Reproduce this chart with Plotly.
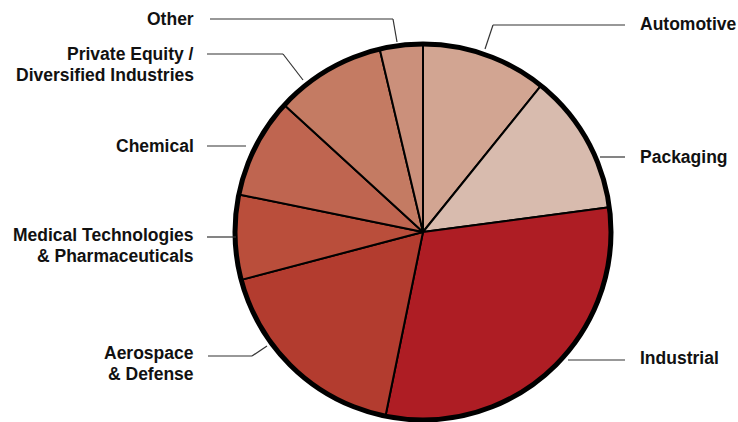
import plotly.graph_objects as go

categories = ["Automotive", "Packaging", "Industrial", "Aerospace & Defense",
              "Medical Technologies & Pharmaceuticals", "Chemical",
              "Private Equity / Diversified Industries", "Other"]
shares = [10.8, 12.1, 30.3, 17.7, 7.3, 8.6, 9.5, 3.7]
colors = ["#D2A592", "#D8BBAE", "#AE1D24", "#B33C2F", "#BA4E3B", "#BF6550", "#C47B63", "#CB907B"]
label_lines = [["Automotive"], ["Packaging"], ["Industrial"], ["Aerospace", "& Defense"],
               ["Medical Technologies", "& Pharmaceuticals"], ["Chemical"],
               ["Private Equity /", "Diversified Industries"], ["Other"]]

W, H = 738, 422
CX, CY, R = 423, 232, 188

def px(x):
    return x / W

def py(y):
    return 1 - y / H

fig = go.Figure()
fig.add_trace(go.Pie(
    labels=categories, values=shares, sort=False, direction="clockwise", rotation=0,
    marker=dict(colors=colors, line=dict(color="black", width=2)),
    textinfo="none", hoverinfo="label+percent", showlegend=False,
    domain=dict(x=[px(CX - R), px(CX + R)], y=[py(CY + R), py(CY - R)]),
))

shapes = [dict(type="circle", xref="paper", yref="paper",
               x0=px(CX - R), x1=px(CX + R), y0=py(CY + R), y1=py(CY - R),
               line=dict(color="black", width=5))]

# leader lines (pixel coords): list of polyline points
leaders = [
    [(625, 25), (493, 25), (485, 49)],          # Automotive
    [(625, 157), (600, 157)],                   # Packaging
    [(625, 360), (568, 360)],                   # Industrial
    [(208, 356), (252, 356), (267, 346)],       # Aerospace
    [(207, 237), (236, 237)],                   # Medical
    [(207, 146), (246, 146)],                   # Chemical
    [(207, 54), (283, 54), (303, 80)],          # Private Equity
    [(210, 19), (393, 19), (397, 42)],          # Other
]
for pts in leaders:
    for (x0, y0), (x1, y1) in zip(pts[:-1], pts[1:]):
        shapes.append(dict(type="line", xref="paper", yref="paper",
                           x0=px(x0), y0=py(y0), x1=px(x1), y1=py(y1),
                           line=dict(color="#333333", width=1.2), layer="above"))

# first-line position of each label (pixels) and alignment
label_pos = [(638, 24, "left"), (638, 157, "left"), (638, 358, "left"),
             (196, 353, "right"), (196, 235, "right"), (196, 146, "right"),
             (196, 54, "right"), (196, 19, "right")]
LINE_GAP = 21

annotations = []
for lines, (x, y, al) in zip(label_lines, label_pos):
    for i, t in enumerate(lines):
        annotations.append(dict(
            text="<b>" + t + "</b>", x=px(x), y=py(y + i * LINE_GAP), xref="paper", yref="paper",
            xanchor=al, yanchor="middle", align=al, showarrow=False,
            font=dict(family="Liberation Sans, Arial, sans-serif", size=17.5, color="#111111"),
        ))

fig.update_layout(
    width=W, height=H, margin=dict(l=0, r=0, t=0, b=0),
    paper_bgcolor="white", plot_bgcolor="white",
    shapes=shapes, annotations=annotations,
)
fig.write_html("out.html", config={"displayModeBar": False},
               post_script="document.body.style.margin='0';document.body.style.overflow='hidden';")
